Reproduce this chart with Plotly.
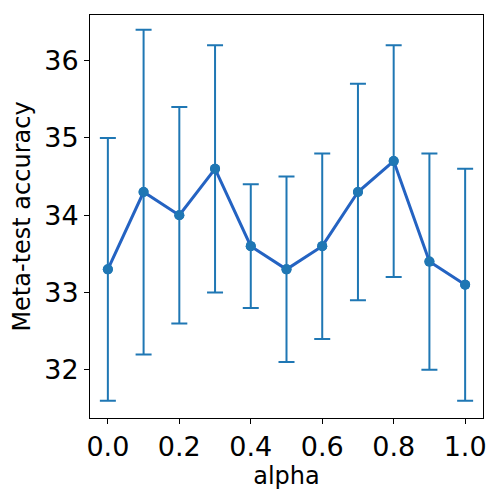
import plotly.graph_objects as go

alpha = [0.0, 0.1, 0.2, 0.3, 0.4, 0.5, 0.6, 0.7, 0.8, 0.9, 1.0]
accuracy = [33.3, 34.3, 34.0, 34.6, 33.6, 33.3, 33.6, 34.3, 34.7, 33.4, 33.1]
err = [1.7, 2.1, 1.4, 1.6, 0.8, 1.2, 1.2, 1.4, 1.5, 1.4, 1.5]
xticks = [0.0, 0.2, 0.4, 0.6, 0.8, 1.0]
xticklabels = ["0.0", "0.2", "0.4", "0.6", "0.8", "1.0"]
yticks = [32, 33, 34, 35, 36]

fig = go.Figure()
fig.add_trace(go.Scatter(
    x=alpha, y=accuracy, mode="markers",
    marker=dict(color="#1f77b4", size=10),
    error_y=dict(type="data", array=err, visible=True, color="#1f77b4",
                 thickness=2, width=8),
    showlegend=False,
))
fig.add_trace(go.Scatter(
    x=alpha, y=accuracy, mode="lines+markers",
    line=dict(color="#2463c2", width=3),
    marker=dict(color="#1f77b4", size=10),
    showlegend=False,
))

fig.update_layout(
    width=500, height=500,
    margin=dict(l=90, r=17, t=15, b=82),
    plot_bgcolor="white", paper_bgcolor="white",
    font=dict(family="DejaVu Sans", color="black"),
)
fig.update_xaxes(
    range=[-0.05, 1.05], tickvals=xticks, ticktext=xticklabels,
    showgrid=False, zeroline=False, showline=True, mirror=True,
    linecolor="black", linewidth=1, ticks="outside", ticklen=5,
    tickcolor="black", tickfont=dict(size=27),
    title=dict(text="alpha", font=dict(size=24), standoff=1),
)
fig.update_yaxes(
    range=[31.377, 36.59], tickvals=yticks,
    showgrid=False, zeroline=False, showline=True, mirror=True,
    linecolor="black", linewidth=1, ticks="outside", ticklen=5,
    tickcolor="black", tickfont=dict(size=27),
    title=dict(text="Meta-test accuracy", font=dict(size=24), standoff=6),
)

fig.write_html("out.html")
